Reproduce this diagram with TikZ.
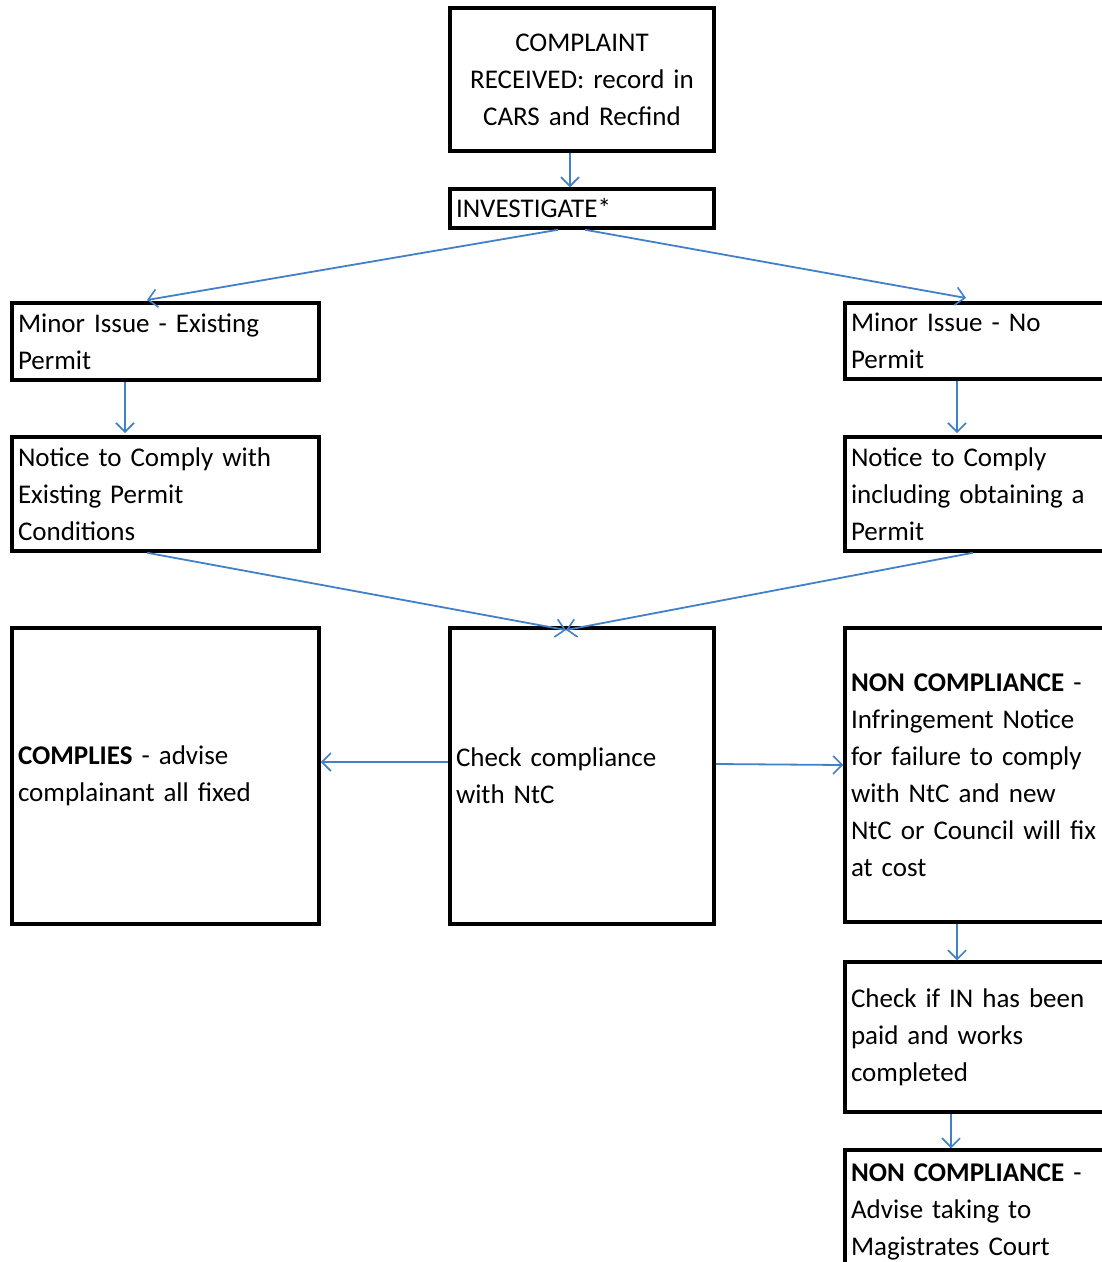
\documentclass[tikz,border=0pt]{standalone}
\usepackage{fontspec}
\setmainfont{Carlito}
\usetikzlibrary{arrows.meta}
\definecolor{arrblue}{RGB}{66,128,200}
\begin{document}
\begin{tikzpicture}[x=1pt,y=-1pt,
  box/.style={draw=black,line width=3.5pt,inner xsep=6pt,inner ysep=0pt,
    font=\fontsize{27}{37}\selectfont,align=left},
  conn/.style={draw=arrblue,line width=1.8pt,
    -{Straight Barb[length=9pt,width=18pt,line width=1.6pt]}}]
\useasboundingbox (0,0) rectangle (1102,1262);
\clip (0,0) rectangle (1102,1262);
\fill[white] (0,0) rectangle (1102,1262);
% boxes
\node[box,align=center,minimum width=264,minimum height=143,text width=252] (comp) at (582,79.5)
  {COMPLAINT\\RECEIVED: record in\\CARS and Recfind};
\node[box,minimum width=264,minimum height=39,text width=252] (inv) at (582,208.5)
  {INVESTIGATE*};
\node[box,minimum width=307,minimum height=77,text width=295] (mie) at (165.5,341.5)
  {Minor Issue - Existing\\Permit};
\node[box,minimum width=307,minimum height=114,text width=295] (ntce) at (165.5,494)
  {Notice to Comply with\\Existing Permit\\Conditions};
\node[box,minimum width=275,minimum height=76,text width=263] (min) at (982.5,341)
  {Minor Issue - No\\Permit};
\node[box,minimum width=275,minimum height=114,text width=263] (ntcn) at (982.5,494)
  {Notice to Comply\\including obtaining a\\Permit};
\node[box,minimum width=307,minimum height=296,text width=295] (cpl) at (165.5,776)
  {\textbf{COMPLIES} - advise\\complainant all fixed};
\node[box,minimum width=264,minimum height=296,text width=252] (chk) at (582,776)
  {Check compliance\\with NtC};
\node[box,minimum width=275,minimum height=294,text width=263] (nc) at (982.5,775)
  {\textbf{NON COMPLIANCE} -\\Infringement Notice\\for failure to comply\\with NtC and new\\NtC or Council will fix\\at cost};
\node[box,minimum width=275,minimum height=150,text width=263] (chkin) at (982.5,1037)
  {Check if IN has been\\paid and works\\completed};
\node[box,minimum width=275,minimum height=124,text width=263] (nc2) at (982.5,1212)
  {\textbf{NON COMPLIANCE} -\\Advise taking to\\Magistrates Court};
% connectors
\draw[conn] (comp.south -| 570,0) -- (inv.north -| 570,0);
\draw[conn] (inv.south -| 558,0) -- (147,300);
\draw[conn] (inv.south -| 585,0) -- (966,298);
\draw[conn] (mie.south -| 125,0) -- (125,433);
\draw[conn] (min.south -| 957,0) -- (957,433);
\draw[conn] (ntce.south -| 147,0) -- (566,630);
\draw[conn] (ntcn.south -| 973,0) -- (566,630);
\draw[conn] (chk.west |- 0,762) -- (cpl.east |- 0,762);
\draw[conn] (chk.east |- 0,764) -- (nc.west |- 0,765);
\draw[conn] (nc.south -| 957,0) -- (chkin.north -| 957,0);
\draw[conn] (chkin.south -| 951,0) -- (nc2.north -| 951,0);
\end{tikzpicture}
\end{document}
